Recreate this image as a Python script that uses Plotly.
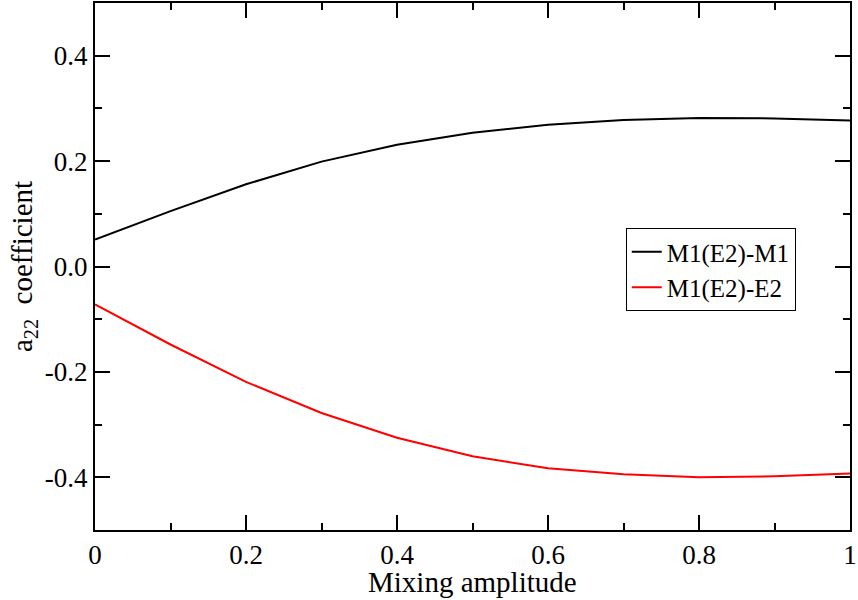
import plotly.graph_objects as go

mixing = [0.0, 0.1, 0.2, 0.3, 0.4, 0.5, 0.6, 0.7, 0.8, 0.9, 1.0]
a22_m1 = [0.051, 0.105, 0.156, 0.199, 0.231, 0.254, 0.269, 0.278, 0.282, 0.281, 0.277]
a22_e2 = [-0.072, -0.148, -0.219, -0.278, -0.325, -0.360, -0.383, -0.394, -0.400, -0.398, -0.393]
series_names = ["M1(E2)-M1", "M1(E2)-E2"]
xtick_vals = [0, 0.2, 0.4, 0.6, 0.8, 1.0]
xtick_text = ["0", "0.2", "0.4", "0.6", "0.8", "1"]
ytick_vals = [-0.4, -0.2, 0.0, 0.2, 0.4]
ytick_text = ["-0.4", "-0.2", "0.0", "0.2", "0.4"]
x_title = "Mixing amplitude"
y_title = "a<sub>22</sub>  coefficient"

font = "'Liberation Serif', 'Times New Roman', 'DejaVu Serif', serif"

fig = go.Figure()
fig.add_trace(go.Scatter(x=mixing, y=a22_m1, mode="lines", name=series_names[0],
                         line=dict(color="black", width=2)))
fig.add_trace(go.Scatter(x=mixing, y=a22_e2, mode="lines", name=series_names[1],
                         line=dict(color="red", width=2)))

axis_common = dict(showline=True, linecolor="black", linewidth=2, mirror="allticks",
                   ticks="inside", ticklen=15, tickwidth=1.5, tickcolor="black",
                   showgrid=False, zeroline=False, ticklabeloverflow="allow",
                   tickfont=dict(family=font, size=27, color="black"))

fig.update_xaxes(range=[0, 1], tickvals=xtick_vals, ticktext=xtick_text,
                 minor=dict(ticks="inside", ticklen=7, tickwidth=1.5, tickcolor="black", dtick=0.1, tick0=0),
                 **axis_common)
fig.update_yaxes(range=[-0.5, 0.5], tickvals=ytick_vals, ticktext=ytick_text,
                 minor=dict(ticks="inside", ticklen=7, tickwidth=1.5, tickcolor="black", dtick=0.1, tick0=0),
                 title=dict(text=y_title, font=dict(family=font, size=29, color="black"), standoff=4),
                 **axis_common)

fig.add_annotation(text=x_title, xref="paper", yref="paper", x=0.5, y=-0.066,
                   xanchor="center", yanchor="top", showarrow=False, borderpad=0,
                   font=dict(family=font, size=29, color="black"))

fig.update_layout(
    width=858, height=600,
    margin=dict(l=95, r=7, t=1, b=70),
    plot_bgcolor="white", paper_bgcolor="white",
    font=dict(family=font, color="black"),
    legend=dict(x=0.703, y=0.573, xanchor="left", yanchor="top",
                bordercolor="black", borderwidth=1, bgcolor="white",
                font=dict(family=font, size=25, color="black"),
                tracegroupgap=0, itemwidth=30),
    showlegend=True,
)

fig.write_html("out.html")
